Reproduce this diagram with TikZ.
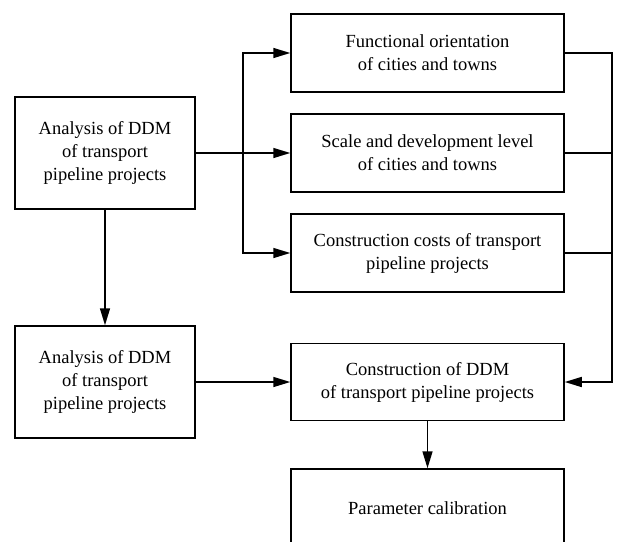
\documentclass[tikz,border=0pt]{standalone}
\usepackage{fontspec}
\setmainfont{Liberation Serif}
\usetikzlibrary{arrows.meta}
\begin{document}
\begin{tikzpicture}[x=1pt,y=-1pt,
  box/.style={draw,line width=1.5pt,align=center,inner sep=0pt,
    font=\fontsize{18.5}{23}\selectfont},
  lbox/.style={box,minimum width=180pt,minimum height=112pt},
  rbox/.style={box,minimum width=273pt,minimum height=78pt},
  arr/.style={line width=1.5pt,-{Triangle[length=17pt,width=10pt]}},
  ln/.style={line width=1.5pt}]
\useasboundingbox (0,0) rectangle (617,541);
\node[lbox] (A) at (105,153) {Analysis of DDM\\of transport\\pipeline projects};
\node[lbox] (B) at (105,382) {Analysis of DDM\\of transport\\pipeline projects};
\node[rbox] (F1) at (427.5,53) {Functional orientation\\of cities and towns};
\node[rbox] (F2) at (427.5,153) {Scale and development level\\of cities and towns};
\node[rbox] (F3) at (427.5,253) {Construction costs of transport\\pipeline projects};
\node[rbox,minimum height=77pt] (C) at (427.5,382) {Construction of DDM\\of transport pipeline projects};
\node[rbox] (P) at (427.5,508) {Parameter calibration};
\coordinate (bl) at (243,153);
\coordinate (rb) at (612,382);
\draw[arr] (A.east) -- (F2.west);
\draw[arr] (bl) |- (F1.west);
\draw[arr] (bl) |- (F3.west);
\draw[arr] (A.south) -- (B.north);
\draw[arr] (B.east) -- (C.west);
\draw[arr] (C.south) -- (P.north);
\draw[arr] (F1.east) -| (rb) -- (C.east);
\draw[ln] (F2.east) -- (F2.east -| rb);
\draw[ln] (F3.east) -- (F3.east -| rb);
\end{tikzpicture}
\end{document}
